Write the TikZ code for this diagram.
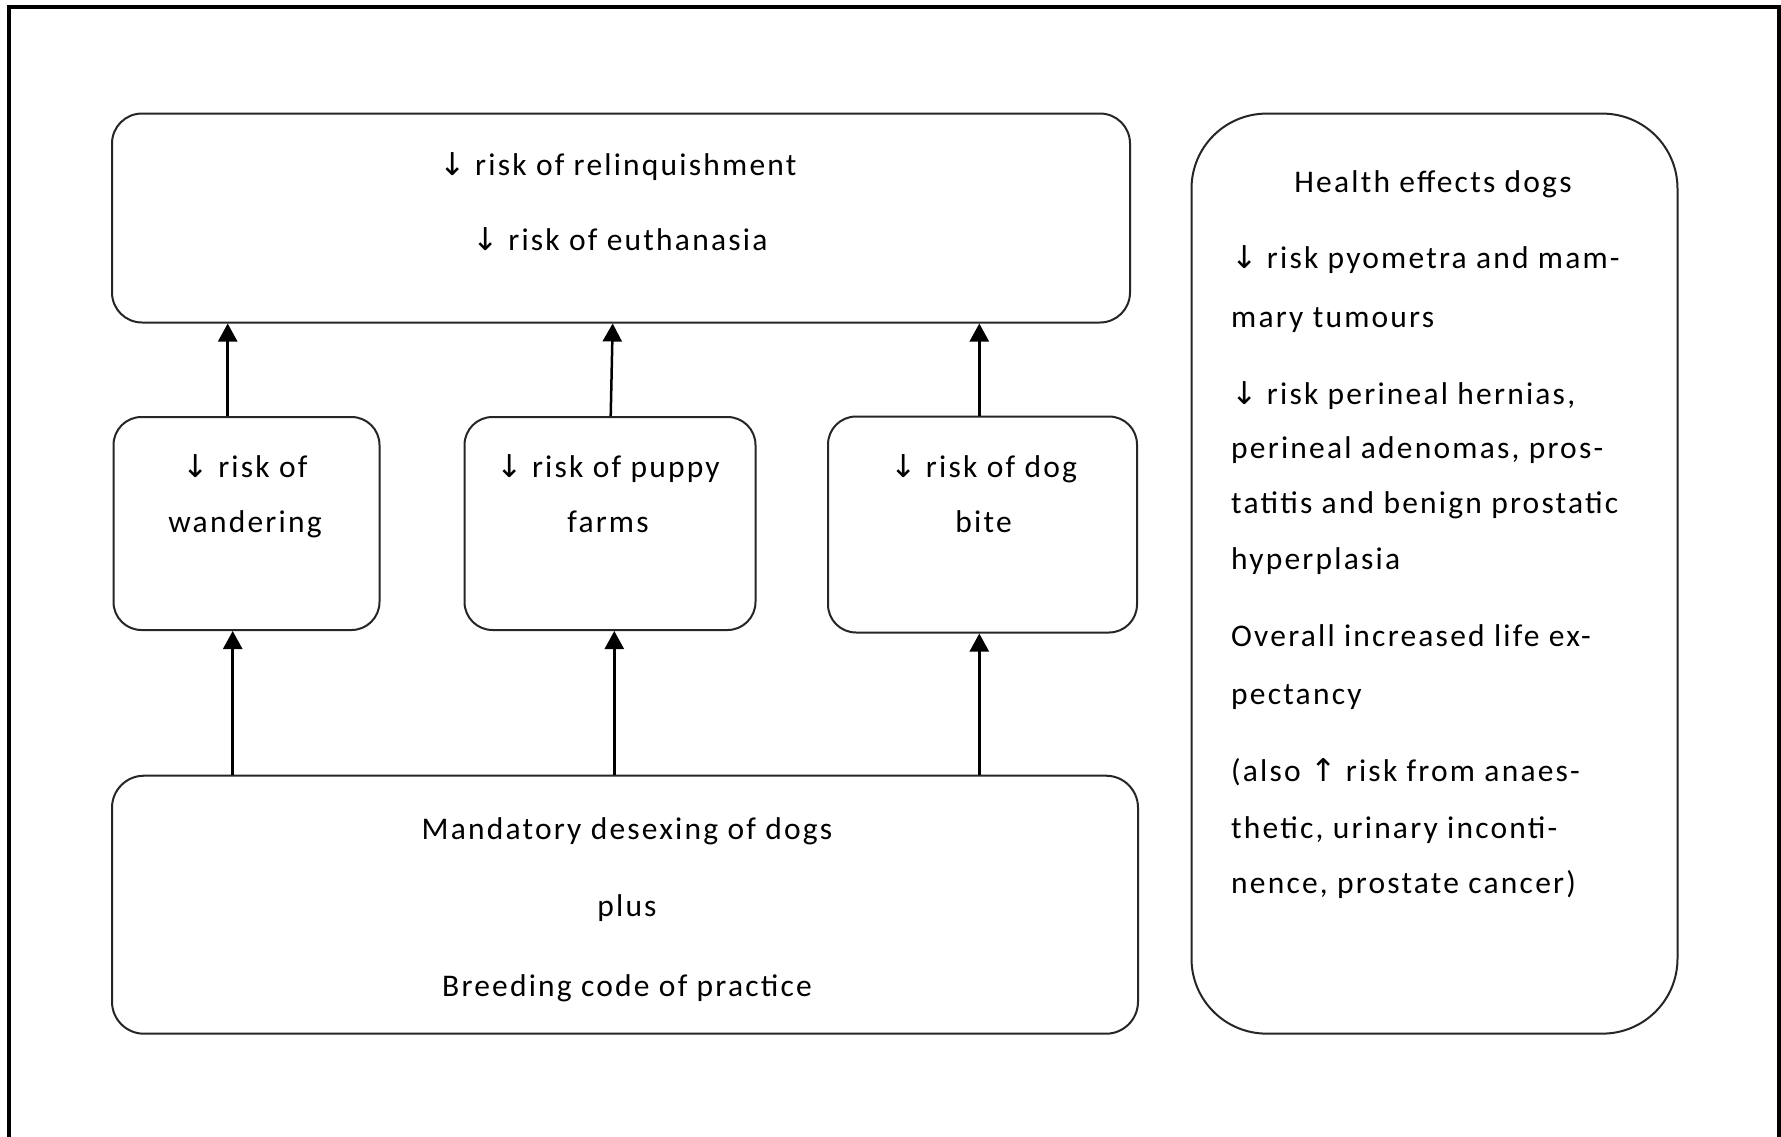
\documentclass[tikz,border=0pt]{standalone}
\usepackage{fontspec}
\setmainfont{Carlito}[LetterSpace=7]
\newfontfamily\arrf{DejaVu Sans}
\usetikzlibrary{arrows.meta}
\newcommand\dnarr{{\arrf ↓}}
\newcommand\uparr{{\arrf ↑}}
\begin{document}
\begin{tikzpicture}[x=1pt,y=-1pt,
  box/.style={draw=black!85,line width=2pt,rectangle,inner sep=0pt,fill=white},
  txt/.style={anchor=base,inner sep=0pt,font=\fontsize{31.5}{38}\selectfont},
  ltxt/.style={anchor=base west,inner sep=0pt,font=\fontsize{31.5}{38}\selectfont},
  arr/.style={line width=2.5pt,-{Triangle[length=18pt,width=19pt]}}]
\useasboundingbox (0,0) rectangle (1781,1136);
\fill[white] (0,0) rectangle (1781,1136);
\draw[line width=3.5pt] (9,1170) -- (9,7) -- (1779,7) -- (1779,1170);
% boxes
\node[box,rounded corners=30pt,minimum width=1018pt,minimum height=209pt] (T) at (621,218) {};
\node[box,rounded corners=28pt,minimum width=266pt,minimum height=213pt] (A) at (246.5,523.5) {};
\node[box,rounded corners=28pt,minimum width=291pt,minimum height=213pt] (B) at (610,523.5) {};
\node[box,rounded corners=28pt,minimum width=309pt,minimum height=216pt] (C) at (982.5,524.5) {};
\node[box,rounded corners=32pt,minimum width=1026pt,minimum height=258pt] (D) at (625,904.7) {};
\node[box,rounded corners=75pt,minimum width=486pt,minimum height=920pt] (R) at (1434.5,573.6) {};
% texts
\node[txt] (t1) at (618,175) {\dnarr\ risk of relinquishment};
\node[txt] (t2) at (620,250) {\dnarr\ risk of euthanasia};
\node[txt] (a1) at (245,477.5) {\dnarr\ risk of};
\node[txt] (a2) at (245,532) {wandering};
\node[txt] (b1) at (608,477.5) {\dnarr\ risk of puppy};
\node[txt] (b2) at (608,532) {farms};
\node[txt] (c1) at (983.6,477.5) {\dnarr\ risk of dog};
\node[txt] (c2) at (983.6,532) {bite};
\node[txt] (d1) at (627,839) {Mandatory desexing of dogs};
\node[txt] (d2) at (627,916) {plus};
\node[txt] (d3) at (627,996.5) {Breeding code of practice};
\node[txt] (h) at (1433,192) {Health effects dogs};
\node[ltxt] (r1) at (1231,268) {\dnarr\ risk pyometra and mam-};
\node[ltxt] (r2) at (1231,327) {mary tumours};
\node[ltxt] (r3) at (1231,404) {\dnarr\ risk perineal hernias,};
\node[ltxt] (r4) at (1231,458.2) {perineal adenomas, pros-};
\node[ltxt] (r5) at (1231,513.7) {tatitis and benign prostatic};
\node[ltxt] (r6) at (1231,569.5) {hyperplasia};
\node[ltxt] (r7) at (1231,646.7) {Overall increased life ex-};
\node[ltxt] (r8) at (1231,704.7) {pectancy};
\node[ltxt] (r9) at (1231,781.7) {(also \uparr\ risk from anaes-};
\node[ltxt] (r10) at (1231,838.7) {thetic, urinary inconti-};
\node[ltxt] (r11) at (1231,893) {nence, prostate cancer)};
% connectors
\draw[arr] ([xshift=-18.8pt]A.north) -- ([xshift=-18.8pt]A.north |- T.south);
\draw[arr] ([xshift=0.7pt]B.north) -- ([xshift=2.7pt]B.north |- T.south);
\draw[arr] ([xshift=-3.2pt]C.north) -- ([xshift=-3.2pt]C.north |- T.south);
\draw[arr] ([xshift=-13.8pt]A.south |- D.north) -- ([xshift=-13.8pt]A.south);
\draw[arr] ([xshift=4.3pt]B.south |- D.north) -- ([xshift=4.3pt]B.south);
\draw[arr] ([xshift=-3.2pt]C.south |- D.north) -- ([xshift=-3.2pt]C.south);
\end{tikzpicture}
\end{document}
